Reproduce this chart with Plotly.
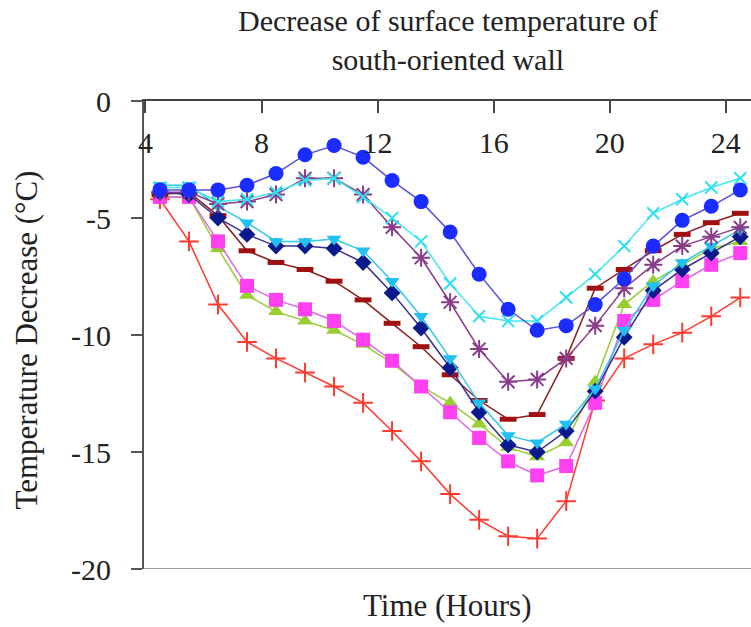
import plotly.graph_objects as go

# Hour of day for each reading
hours = [4.5, 5.5, 6.5, 7.5, 8.5, 9.5, 10.5, 11.5, 12.5, 13.5, 14.5,
         15.5, 16.5, 17.5, 18.5, 19.5, 20.5, 21.5, 22.5, 23.5, 24.5]

# Surface temperature decrease (°C) for each case
blue_circle = [-3.8, -3.8, -3.8, -3.6, -3.1, -2.3, -1.9, -2.4, -3.4, -4.3, -5.6,
               -7.4, -8.9, -9.8, -9.6, -8.7, -7.6, -6.2, -5.1, -4.5, -3.8]
purple_star = [-3.9, -3.9, -4.4, -4.3, -4.0, -3.3, -3.3, -4.0, -5.4, -6.7, -8.6,
               -10.6, -12.0, -11.9, -11.0, -9.6, -8.0, -7.0, -6.2, -5.8, -5.4]
cyan_x = [-3.7, -3.7, -4.3, -4.2, -3.9, -3.4, -3.3, -4.1, -5.0, -6.0, -7.8,
          -9.2, -9.4, -9.4, -8.4, -7.4, -6.2, -4.8, -4.2, -3.7, -3.3]
cyan_bar = [-3.6, -3.6, -4.5, -5.2, -6.0, -6.0, -5.9, -6.4, -7.7, -9.2, -11.0,
            -12.9, -14.3, -14.6, -13.8, -12.3, -9.8, -7.9, -6.9, -6.2, -5.5]
navy_diamond = [-3.9, -4.0, -5.0, -5.7, -6.2, -6.2, -6.3, -6.9, -8.2, -9.7, -11.4,
                -13.3, -14.7, -15.0, -14.1, -12.4, -10.1, -8.1, -7.2, -6.5, -5.8]
maroon_dash = [-4.0, -3.9, -4.9, -6.4, -6.9, -7.2, -7.7, -8.5, -9.5, -10.5, -11.7,
               -12.8, -13.6, -13.4, -11.0, -8.0, -7.2, -6.4, -5.7, -5.2, -4.8]
green_triangle = [-4.1, -4.1, -6.3, -8.3, -9.0, -9.4, -9.8, -10.4, -11.2, -12.2, -12.9,
                  -13.8, -14.8, -15.2, -14.6, -12.0, -8.7, -7.7, -7.0, -6.3, -6.0]
magenta_square = [-4.1, -4.1, -6.0, -7.9, -8.5, -8.9, -9.4, -10.2, -11.1, -12.2, -13.3,
                  -14.4, -15.4, -16.0, -15.6, -12.9, -9.4, -8.5, -7.7, -7.0, -6.5]
red_plus = [-4.2, -6.0, -8.7, -10.3, -11.0, -11.6, -12.2, -12.9, -14.1, -15.4, -16.8,
            -17.9, -18.6, -18.7, -17.1, -12.8, -11.0, -10.4, -9.9, -9.2, -8.4]

x_ticks = [4, 8, 12, 16, 20, 24]
y_ticks = [0, -5, -10, -15, -20]

SERIF = "Liberation Serif, Times New Roman, serif"
TXT = "#222222"

series = [
    # (values, line colour, marker colour, symbol, size, marker line width)
    (red_plus, "#ff3b30", "#ff3b30", "cross-thin-open", 14, 2),
    (green_triangle, "#9acd32", "#9acd32", "triangle-up", 14, 0),
    (magenta_square, "#e066e6", "#ff40f0", "square", 14, 0),
    (maroon_dash, "#8b2020", "#a01010", "line-ew-open", 12, 5),
    (navy_diamond, "#3a2f8c", "#0a1a8c", "diamond", 13, 0),
    (cyan_bar, "#30c8e8", "#20c0f0", "triangle-down", 13, 0),
    (purple_star, "#8a3c8a", "#8a3c8a", "asterisk-open", 15, 2),
    (cyan_x, "#40e8f0", "#30e0f0", "x-thin-open", 12, 2),
    (blue_circle, "#5a4fd8", "#1a2cff", "circle", 15, 0),
]

fig = go.Figure()
for vals, lc, mc, sym, size, mlw in series:
    fig.add_trace(go.Scatter(
        x=hours, y=vals, mode="lines+markers",
        line=dict(color=lc, width=1.5),
        marker=dict(symbol=sym, size=size, color=mc,
                    line=dict(color=mc, width=mlw)),
        showlegend=False,
    ))

# plain line along the bottom of the plot area
fig.add_shape(type="line", xref="paper", yref="y", x0=0, x1=1, y0=-20, y1=-20,
              line=dict(color="#9a9a9a", width=2))

fig.update_layout(
    width=751, height=627,
    margin=dict(l=144, r=0, t=101, b=58),
    paper_bgcolor="white", plot_bgcolor="white",
    font=dict(family=SERIF, color=TXT, size=30),
    xaxis=dict(
        range=[3.95, 24.87], side="top",
        tickvals=x_ticks, ticktext=[str(v) for v in x_ticks],
        ticks="inside", ticklen=12, tickwidth=2, tickcolor="#444",
        ticklabelposition="inside", ticklabelstandoff=22,
        ticklabeloverflow="allow",
        showline=True, linecolor="#444", linewidth=2,
        showgrid=False, zeroline=False,
        tickfont=dict(family=SERIF, size=30, color=TXT),
    ),
    yaxis=dict(
        range=[-20, 0],
        tickvals=y_ticks, ticktext=[str(v) for v in y_ticks],
        ticks="outside", ticklen=11, tickwidth=2, tickcolor="#555",
        ticklabelstandoff=14,
        showline=True, linecolor="#555", linewidth=2,
        showgrid=False, zeroline=False,
        tickfont=dict(family=SERIF, size=30, color=TXT),
    ),
    annotations=[
        dict(text="Decrease of surface temperature of<br>south-oriented wall",
             xref="paper", yref="paper", x=0.5, y=1.131,
             xanchor="center", yanchor="middle", showarrow=False,
             font=dict(family=SERIF, size=30, color=TXT)),
        dict(text="Temperature Decrease (°C)", textangle=-90,
             xref="paper", yref="paper", x=-0.193, y=0.49,
             xanchor="center", yanchor="middle", showarrow=False,
             font=dict(family=SERIF, size=31, color=TXT)),
        dict(text="Time (Hours)",
             xref="paper", yref="paper", x=0.5, y=-0.077,
             xanchor="center", yanchor="middle", showarrow=False,
             font=dict(family=SERIF, size=31, color=TXT)),
    ],
)

fig.write_html("out.html")
